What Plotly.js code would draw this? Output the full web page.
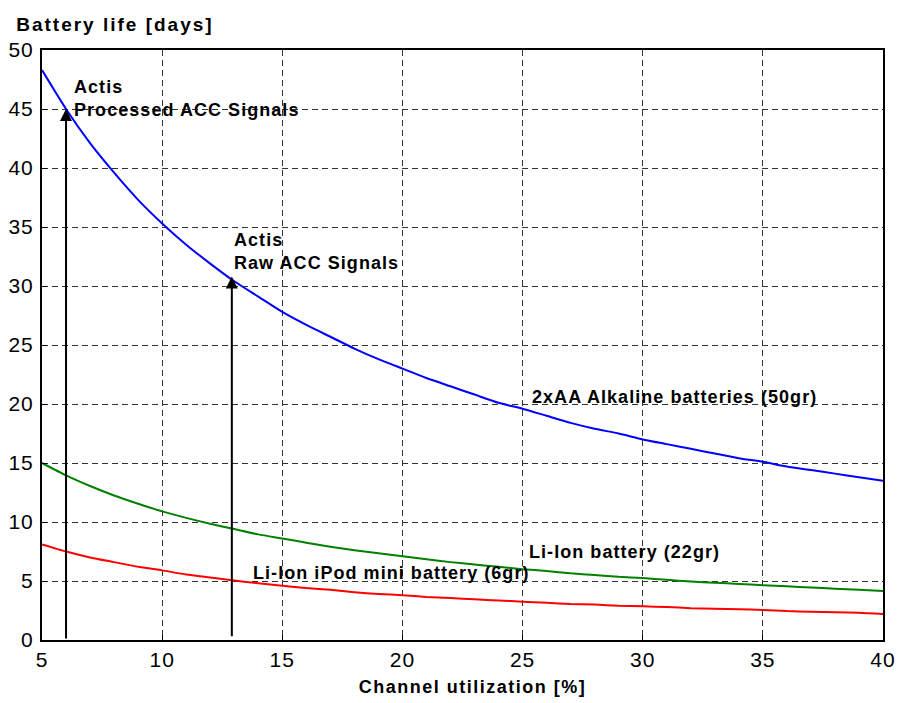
<!DOCTYPE html>
<html><head><meta charset="utf-8">
<script src="https://cdn.plot.ly/plotly-3.0.1.min.js"></script>
<style>
body{margin:0;background:#fff}#c{width:901px;height:703px}
#c .annotation-text{letter-spacing:1.05px}
#c .gtitle{letter-spacing:2px}
#c .xtitle{letter-spacing:1.5px}
#c .xtick text,#c .ytick text{letter-spacing:1px}
</style>
</head><body><div id="c"></div>
<script>
const utilization = [5,6,7,8,9,10,11,12,13,14,15,16,17,18,19,20,21,22,23,24,25,26,27,28,29,30,31,32,33,34,35,36,37,38,39,40];
const alkaline = [48.3,45.0,42.1,39.6,37.3,35.3,33.5,31.9,30.4,29.1,27.8,26.7,25.7,24.7,23.8,23.0,22.2,21.5,20.8,20.1,19.6,19.0,18.4,17.9,17.5,17.0,16.6,16.2,15.8,15.4,15.1,14.7,14.4,14.1,13.8,13.5];
const liIon = [15.0,13.95,13.05,12.25,11.55,10.9,10.35,9.85,9.4,8.95,8.6,8.25,7.9,7.6,7.35,7.1,6.85,6.6,6.4,6.2,6.0,5.85,5.65,5.5,5.35,5.25,5.1,4.95,4.85,4.75,4.65,4.55,4.45,4.35,4.25,4.15];
const iPod = [8.1,7.5,7.0,6.6,6.2,5.9,5.55,5.3,5.05,4.8,4.6,4.4,4.25,4.05,3.9,3.8,3.65,3.55,3.45,3.35,3.25,3.15,3.05,3.0,2.9,2.85,2.8,2.7,2.65,2.6,2.55,2.45,2.4,2.35,2.3,2.2];
const arrowX = [6, 12.9];
const arrowTop = [45, 30.8];
const arrowBottom = [0, 0.2];
const labels = [
  {x:6.25, y:45.9, t:"Actis<br>Processed ACC Signals"},
  {x:12.9, y:32.9, t:"Actis<br>Raw ACC Signals"},
  {x:25.3, y:20.6, t:"2xAA Alkaline batteries (50gr)"},
  {x:25.2, y:7.5, t:"Li-Ion battery (22gr)"},
  {x:13.7, y:5.7, t:"Li-Ion iPod mini battery (6gr)"}
];
const FONT = "Liberation Sans, Arial, sans-serif";
const traces = [
  {x:utilization, y:alkaline, mode:"lines", line:{color:"#0000ff", width:2, shape:"spline", smoothing:0.6}},
  {x:utilization, y:liIon, mode:"lines", line:{color:"#008000", width:2, shape:"spline", smoothing:0.6}},
  {x:utilization, y:iPod, mode:"lines", line:{color:"#ff0000", width:2, shape:"spline", smoothing:0.6}}
];
const annotations = labels.map(l => ({x:l.x, y:l.y, xref:"x", yref:"y", text:"<b>"+l.t+"</b>", showarrow:false, xanchor:"left", yanchor:"middle", align:"left", font:{family:FONT, size:18, color:"#000"}}));
arrowX.forEach((ax,i) => annotations.push({x:ax, y:arrowTop[i], ax:ax, ay:arrowBottom[i], xref:"x", yref:"y", axref:"x", ayref:"y", text:"", showarrow:true, arrowhead:2, arrowsize:1.2, arrowwidth:2, arrowcolor:"#000", standoff:0, startstandoff:0}));
const layout = {
  width:901, height:703,
  margin:{l:42, r:18, t:50, b:63},
  paper_bgcolor:"#fff", plot_bgcolor:"#fff",
  showlegend:false,
  font:{family:FONT, size:21, color:"#000"},
  title:{text:"<b>Battery life [days]</b>", x:0.018, xanchor:"left", y:0.965, yanchor:"middle", font:{family:FONT, size:19, color:"#000"}},
  xaxis:{range:[5,40], tickvals:[5,10,15,20,25,30,35,40], ticktext:["5","10","15","20","25","30","35","40"], showgrid:true, gridcolor:"#333", griddash:"6px,4px", gridwidth:1, showline:true, linecolor:"#000", linewidth:2, mirror:true, ticks:"inside", ticklen:5, tickcolor:"#000", zeroline:false, tickfont:{size:21},
    title:{text:"<b>Channel utilization [%]</b>", font:{family:FONT, size:18}, standoff:10}},
  yaxis:{range:[0,50], tickvals:[0,5,10,15,20,25,30,35,40,45,50], ticktext:["0","5","10","15","20","25","30","35","40","45","50"], showgrid:true, gridcolor:"#333", griddash:"6px,4px", gridwidth:1, showline:true, linecolor:"#000", linewidth:2, mirror:true, ticks:"inside", ticklen:5, tickcolor:"#000", zeroline:false, tickfont:{size:21}, ticklabelstandoff:2},
  annotations:annotations
};
Plotly.newPlot("c", traces, layout, {staticPlot:true, displayModeBar:false}).then(gd => {
  const t = gd.querySelector(".xtitle");
  if (t) t.setAttribute("transform", "translate(10,0)");
});
</script></body></html>
